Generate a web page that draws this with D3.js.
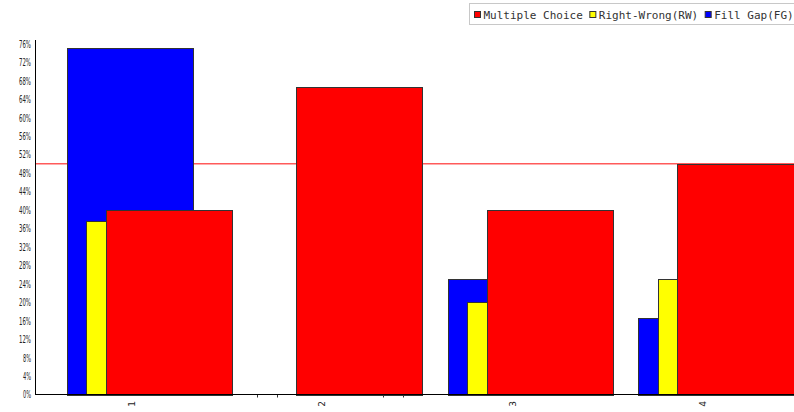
<!DOCTYPE html>
<html>
<head>
<meta charset="utf-8">
<script src="https://cdn.jsdelivr.net/npm/d3@7/dist/d3.min.js"></script>
<style>
  html, body { margin: 0; padding: 0; background: #fff; }
  svg { display: block; }
</style>
</head>
<body>
<svg id="chart" width="794" height="412"></svg>
<script>
// Question groups along the x axis
const categories = ["1", "2", "3", "4"];
// Percentage of correct answers per question type
const fillGap = [75, 0, 25, 16.67];
const rightWrong = [37.5, 0, 20, 25];
const multipleChoice = [40, 66.67, 40, 50];
// Y tick labels (percent)
const yTicks = [0, 4, 8, 12, 16, 20, 24, 28, 32, 36, 40, 44, 48, 52, 56, 60, 64, 68, 72, 76];
const referenceLine = 50;

// Drawing order: back to front
const series = [
  { name: "Fill Gap(FG)", values: fillGap, color: "#0000ff" },
  { name: "Right-Wrong(RW)", values: rightWrong, color: "#ffff00" },
  { name: "Multiple Choice", values: multipleChoice, color: "#ff0000" }
];
const legendOrder = [series[2], series[1], series[0]];

const svg = d3.select("#chart");

const x = d3.scaleBand().domain(categories).range([36.25, 798.25]).padding(0);
const y = d3.scaleLinear().domain([0, 76.8]).range([394.5, 40]);

const bw = x.bandwidth();
const barW = bw * 0.662;
const step = bw * 0.1025;
const barX = (cat, i) => x(cat) + bw / 2 - bw * 0.34 + i * step;

// Reference line at 50%
svg.append("line")
  .attr("x1", 35.5).attr("x2", 794)
  .attr("y1", y(referenceLine)).attr("y2", y(referenceLine))
  .attr("stroke", "#ff5a5a").attr("stroke-width", 1.5);

// Bars
series.forEach((s, i) => {
  const g = svg.append("g");
  categories.forEach((cat, j) => {
    const v = s.values[j];
    const bx = Math.round(barX(cat, i)) + 0.5;
    if (v > 0) {
      g.append("rect")
        .attr("x", bx)
        .attr("y", Math.round(y(v)) + 0.5)
        .attr("width", Math.round(barW))
        .attr("height", Math.round(y(0)) - Math.round(y(v)))
        .attr("fill", s.color)
        .attr("stroke", "#333")
        .attr("stroke-width", 1);
    } else {
      // zero-height bar: only its side edges poke below the baseline
      [bx, bx + Math.round(barW)].forEach(ex => {
        g.append("line")
          .attr("x1", ex).attr("x2", ex)
          .attr("y1", y(0)).attr("y2", y(0) + 3)
          .attr("stroke", "#333").attr("stroke-width", 1);
      });
    }
  });
});

// Axes lines
svg.append("line")
  .attr("x1", 35.5).attr("x2", 35.5).attr("y1", 40).attr("y2", 395)
  .attr("stroke", "#000").attr("stroke-width", 1);
svg.append("line")
  .attr("x1", 35).attr("x2", 794).attr("y1", 394.5).attr("y2", 394.5)
  .attr("stroke", "#000").attr("stroke-width", 1);

// Y tick labels
svg.append("g").selectAll("text")
  .data(yTicks)
  .join("text")
  .attr("x", 31)
  .attr("y", d => y(d))
  .attr("dy", "0.36em")
  .attr("text-anchor", "end")
  .attr("font-family", "DejaVu Sans")
  .attr("font-size", 11)
  .attr("fill", "#222")
  .attr("textLength", d => (d + "%").length * 4)
  .attr("lengthAdjust", "spacingAndGlyphs")
  .text(d => d + "%");

// X labels, rotated
svg.append("g").selectAll("text")
  .data(categories)
  .join("text")
  .attr("transform", d => `translate(${x(d) + bw / 2},401) rotate(-90)`)
  .attr("dy", "0.35em")
  .attr("text-anchor", "end")
  .attr("font-family", "DejaVu Sans")
  .attr("font-size", 9)
  .attr("fill", "#222")
  .text(d => d);

// Legend
const legend = svg.append("g");
legend.append("rect")
  .attr("x", 469.5).attr("y", 3.5)
  .attr("width", 330).attr("height", 21)
  .attr("fill", "#fff").attr("stroke", "#c8c8c8");
let lx = 474;
legendOrder.forEach(s => {
  legend.append("rect")
    .attr("x", lx + 0.5).attr("y", 11.5)
    .attr("width", 6).attr("height", 6)
    .attr("fill", s.color).attr("stroke", "#333");
  const t = legend.append("text")
    .attr("x", lx + 9.5).attr("y", 19)
    .attr("font-family", "DejaVu Sans Mono")
    .attr("font-size", 11)
    .attr("fill", "#333")
    .text(s.name);
  lx += 9.5 + t.node().getComputedTextLength() + 6.5;
});
</script>
</body>
</html>
